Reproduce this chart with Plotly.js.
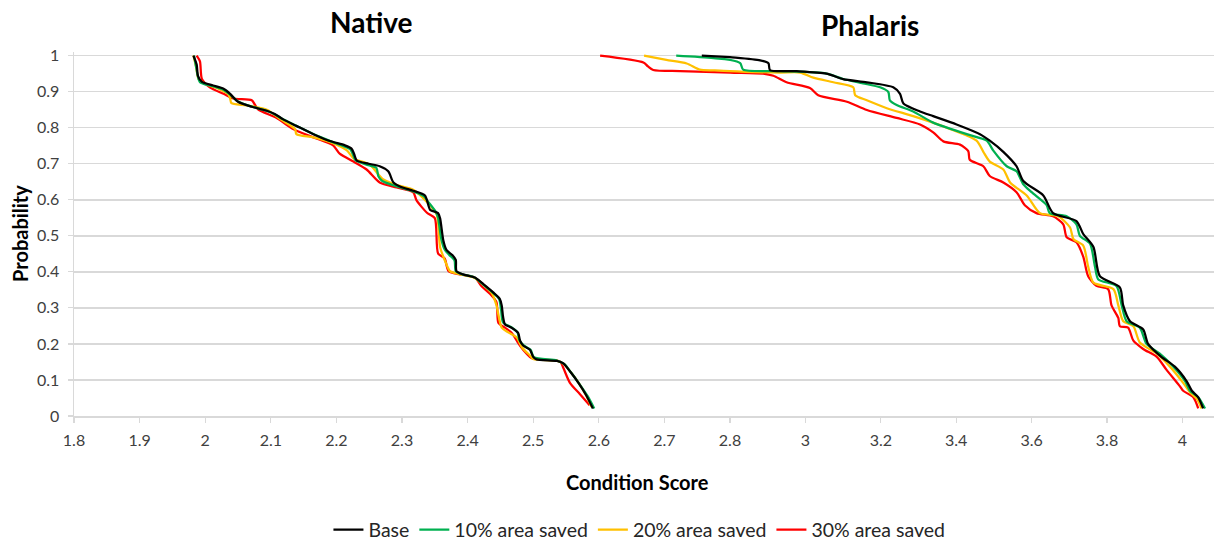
<!DOCTYPE html>
<html>
<head>
<meta charset="utf-8">
<script src="https://cdn.plot.ly/plotly-3.0.1.min.js"></script>
<style>
  html, body { margin: 0; padding: 0; background: #ffffff; }
  #chart { width: 1217px; height: 553px; }
</style>
</head>
<body>
<div id="chart"></div>
<script>
// Scenario names and colours (legend order)
const seriesNames = ['Base', '10% area saved', '20% area saved', '30% area saved'];
const seriesColors = ['#000000', '#00b050', '#ffc000', '#ff0000'];

// Axis ticks
const nativeTicks = [1.8, 1.9, 2, 2.1, 2.2, 2.3, 2.4, 2.5, 2.6, 2.7, 2.8];
const phalarisTicks = [3, 3.2, 3.4, 3.6, 3.8, 4];
const probTicks = [0, 0.1, 0.2, 0.3, 0.4, 0.5, 0.6, 0.7, 0.8, 0.9, 1];

// Native: exceedance probability vs condition score
const nativeBaseX = [1.982,1.987,1.989,1.995,2.012,2.028,2.038,2.05,2.071,2.094,2.106,2.119,2.139,2.165,2.19,2.213,2.223,2.227,2.231,2.249,2.266,2.279,2.287,2.297,2.317,2.335,2.343,2.355,2.358,2.363,2.368,2.377,2.382,2.383,2.393,2.411,2.424,2.439,2.449,2.452,2.454,2.457,2.467,2.477,2.48,2.485,2.495,2.5,2.505,2.536,2.546,2.556,2.569,2.581,2.591];
const nativeBaseY = [1.0,0.975,0.944,0.927,0.917,0.908,0.894,0.872,0.858,0.847,0.838,0.823,0.805,0.782,0.763,0.751,0.742,0.727,0.709,0.7,0.693,0.679,0.648,0.637,0.625,0.612,0.572,0.563,0.549,0.487,0.46,0.446,0.433,0.402,0.393,0.384,0.366,0.343,0.325,0.307,0.276,0.254,0.245,0.231,0.209,0.195,0.184,0.164,0.157,0.153,0.146,0.124,0.092,0.057,0.021];

const native10X = [1.983,1.986,1.992,2.01,2.027,2.037,2.05,2.07,2.093,2.105,2.118,2.138,2.164,2.189,2.212,2.221,2.226,2.229,2.245,2.261,2.264,2.27,2.292,2.316,2.333,2.34,2.352,2.355,2.36,2.365,2.372,2.38,2.382,2.392,2.41,2.423,2.438,2.448,2.451,2.454,2.466,2.476,2.479,2.486,2.496,2.501,2.536,2.548,2.558,2.57,2.583,2.593];
const native10Y = [1.0,0.97,0.926,0.916,0.906,0.893,0.873,0.859,0.847,0.838,0.824,0.806,0.783,0.764,0.748,0.74,0.722,0.71,0.698,0.688,0.665,0.652,0.637,0.624,0.61,0.594,0.565,0.55,0.49,0.462,0.447,0.432,0.402,0.393,0.385,0.366,0.343,0.325,0.295,0.26,0.247,0.232,0.21,0.195,0.184,0.163,0.154,0.143,0.12,0.09,0.055,0.021];

const native20X = [1.982,1.986,1.99,2.0,2.02,2.035,2.038,2.04,2.063,2.094,2.115,2.137,2.139,2.165,2.195,2.216,2.226,2.251,2.271,2.292,2.317,2.338,2.353,2.358,2.365,2.373,2.38,2.392,2.41,2.423,2.437,2.444,2.452,2.462,2.475,2.483,2.495,2.5,2.537,2.547,2.557,2.57,2.581,2.589];
const native20Y = [1.0,0.97,0.935,0.922,0.908,0.893,0.881,0.868,0.862,0.85,0.823,0.796,0.782,0.773,0.757,0.737,0.715,0.697,0.657,0.641,0.628,0.594,0.559,0.469,0.433,0.402,0.397,0.392,0.384,0.366,0.34,0.307,0.245,0.232,0.218,0.19,0.168,0.158,0.153,0.144,0.122,0.09,0.056,0.025];

const native30X = [1.987,1.992,1.995,2.007,2.028,2.043,2.071,2.076,2.081,2.109,2.134,2.165,2.195,2.205,2.226,2.246,2.266,2.292,2.317,2.322,2.338,2.35,2.355,2.365,2.371,2.388,2.411,2.421,2.434,2.444,2.447,2.457,2.467,2.48,2.49,2.498,2.541,2.546,2.556,2.571,2.586];
const native30Y = [1.0,0.984,0.935,0.912,0.894,0.881,0.876,0.863,0.85,0.827,0.796,0.773,0.751,0.728,0.706,0.684,0.648,0.634,0.621,0.599,0.564,0.549,0.451,0.437,0.402,0.393,0.384,0.361,0.339,0.316,0.258,0.245,0.231,0.195,0.173,0.16,0.151,0.133,0.092,0.061,0.03];

// Phalaris: exceedance probability vs condition score
const phalarisBaseX = [2.757,2.8,2.88,2.902,2.906,2.977,3.056,3.1,3.163,3.233,3.251,3.26,3.304,3.339,3.401,3.463,3.489,3.525,3.56,3.578,3.631,3.657,3.719,3.737,3.764,3.781,3.834,3.843,3.861,3.896,3.909,3.944,3.98,4.011,4.025,4.042,4.055];
const phalarisBaseY = [1.0,0.996,0.987,0.979,0.96,0.957,0.95,0.935,0.926,0.912,0.894,0.867,0.845,0.832,0.809,0.782,0.764,0.733,0.693,0.652,0.612,0.563,0.541,0.505,0.469,0.388,0.357,0.307,0.263,0.24,0.2,0.164,0.137,0.097,0.07,0.052,0.021];

const phalaris10X = [2.718,2.775,2.827,2.835,2.933,3.056,3.1,3.153,3.198,3.22,3.224,3.242,3.286,3.339,3.428,3.481,3.498,3.534,3.56,3.578,3.6,3.64,3.648,3.693,3.719,3.728,3.755,3.768,3.777,3.825,3.839,3.852,3.887,3.905,3.94,3.976,4.007,4.02,4.042,4.06];
const phalaris10Y = [1.0,0.993,0.979,0.961,0.957,0.95,0.935,0.923,0.912,0.899,0.876,0.863,0.845,0.814,0.782,0.764,0.737,0.693,0.679,0.643,0.621,0.585,0.563,0.554,0.532,0.5,0.478,0.415,0.379,0.361,0.307,0.263,0.245,0.2,0.173,0.137,0.097,0.07,0.052,0.021];

const phalaris20X = [2.669,2.703,2.734,2.754,2.775,2.8,2.933,2.986,3.021,3.074,3.127,3.132,3.163,3.216,3.286,3.375,3.454,3.472,3.489,3.525,3.543,3.587,3.622,3.671,3.702,3.711,3.737,3.75,3.764,3.817,3.83,3.843,3.87,3.887,3.932,3.967,4.002,4.02,4.038,4.051];
const phalaris20Y = [1.0,0.988,0.978,0.961,0.959,0.957,0.953,0.953,0.939,0.926,0.912,0.89,0.876,0.854,0.832,0.8,0.764,0.733,0.706,0.684,0.648,0.612,0.563,0.554,0.523,0.491,0.473,0.415,0.37,0.352,0.307,0.263,0.249,0.204,0.173,0.137,0.092,0.066,0.048,0.021];

const phalaris30X = [2.602,2.668,2.675,2.683,2.724,2.8,2.888,2.915,2.95,3.012,3.034,3.11,3.163,3.242,3.304,3.339,3.366,3.41,3.432,3.436,3.472,3.489,3.525,3.56,3.582,3.613,3.657,3.684,3.693,3.719,3.737,3.75,3.772,3.803,3.812,3.83,3.834,3.856,3.87,3.896,3.932,3.958,3.993,4.002,4.029,4.042];
const phalaris30Y = [1.0,0.981,0.97,0.96,0.957,0.953,0.95,0.944,0.926,0.91,0.89,0.872,0.849,0.827,0.809,0.787,0.762,0.753,0.735,0.711,0.693,0.666,0.648,0.621,0.585,0.563,0.554,0.532,0.496,0.482,0.442,0.388,0.361,0.352,0.307,0.272,0.249,0.245,0.209,0.186,0.164,0.128,0.083,0.07,0.052,0.021];

const nativeSeries = [[nativeBaseX, nativeBaseY], [native10X, native10Y], [native20X, native20Y], [native30X, native30Y]];
const phalarisSeries = [[phalarisBaseX, phalarisBaseY], [phalaris10X, phalaris10Y], [phalaris20X, phalaris20Y], [phalaris30X, phalaris30Y]];

// The score axis is broken at 2.8: 0.1 steps to the left, 0.2 steps to the right.
// Each Phalaris curve is drawn on both halves; each subplot clips its own part.
function line(x, y, i, xaxis, showlegend) {
  return {
    type: 'scatter', mode: 'lines', x: x, y: y, xaxis: xaxis, yaxis: 'y',
    name: seriesNames[i], legendgroup: seriesNames[i], showlegend: showlegend,
    line: { color: seriesColors[i], width: 2.25, shape: 'spline', smoothing: 0.7 },
    hoverinfo: 'x+y+name'
  };
}

const traces = [];
// draw 30% first so Base sits on top
for (let i = 3; i >= 0; i--) traces.push(line(nativeSeries[i][0], nativeSeries[i][1], i, 'x', true));
for (let i = 3; i >= 0; i--) traces.push(line(phalarisSeries[i][0], phalarisSeries[i][1], i, 'x', false));
for (let i = 3; i >= 0; i--) traces.push(line(phalarisSeries[i][0], phalarisSeries[i][1], i, 'x2', false));

const PLOT_L = 74, PLOT_R = 1214, BREAK_PX = 730;
const splitFrac = (BREAK_PX - PLOT_L) / (PLOT_R - PLOT_L);
const rightMax = 2.8 + (PLOT_R - BREAK_PX) / 377;

const FONT = 'Lato, "Open Sans", sans-serif';
const gridGrey = '#d9d9d9';
const tickFont = { family: FONT, size: 16, color: '#404040' };

function xAxis(domain, range, ticks) {
  return {
    domain: domain, range: range, anchor: 'y',
    tickmode: 'array', tickvals: ticks, ticktext: ticks.map(String),
    showgrid: false, zeroline: false,
    showline: true, linecolor: gridGrey, linewidth: 1.5,
    ticks: 'outside', ticklen: 5, tickcolor: gridGrey, tickwidth: 1.2,
    ticklabelstandoff: 4, tickfont: tickFont, fixedrange: true
  };
}

const layout = {
  width: 1217, height: 553,
  margin: { l: PLOT_L, r: 1217 - PLOT_R, t: 52, b: 125 },
  paper_bgcolor: '#ffffff', plot_bgcolor: '#ffffff',
  font: { family: FONT, color: '#404040', size: 16 },
  showlegend: true,
  legend: {
    orientation: 'h', x: 0.496, xanchor: 'center', y: -0.313, yanchor: 'middle',
    traceorder: 'reversed', itemwidth: 30, itemclick: false, itemdoubleclick: false,
    font: { family: FONT, size: 19.5, color: '#262626' }
  },
  xaxis: xAxis([0, splitFrac], [1.8, 2.8], nativeTicks),
  xaxis2: xAxis([splitFrac, 1], [2.8, rightMax], phalarisTicks),
  yaxis: {
    range: [0, 1.01], tickmode: 'array', tickvals: probTicks, ticktext: probTicks.map(String),
    showgrid: true, gridcolor: gridGrey, gridwidth: 1.5, zeroline: false,
    showline: true, linecolor: gridGrey, linewidth: 1.5,
    ticks: 'outside', ticklen: 5, tickcolor: gridGrey, tickwidth: 1.2,
    ticklabelstandoff: 5, tickfont: tickFont, fixedrange: true
  },
  annotations: [
    { text: '<b>Native</b>', xref: 'paper', yref: 'paper', x: (371 - PLOT_L) / (PLOT_R - PLOT_L), y: (428 - 21) / 376,
      xanchor: 'center', yanchor: 'middle', showarrow: false,
      font: { family: FONT, size: 28, color: '#000000' } },
    { text: '<b>Phalaris</b>', xref: 'paper', yref: 'paper', x: (870 - PLOT_L) / (PLOT_R - PLOT_L), y: (428 - 24) / 376,
      xanchor: 'center', yanchor: 'middle', showarrow: false,
      font: { family: FONT, size: 28, color: '#000000' } },
    { text: '<b>Condition Score</b>', xref: 'paper', yref: 'paper', x: (637 - PLOT_L) / (PLOT_R - PLOT_L), y: (428 - 496) / 376,
      xanchor: 'center', yanchor: 'middle', showarrow: false,
      font: { family: FONT, size: 20, color: '#000000' } },
    { text: '<b>Probability</b>', xref: 'paper', yref: 'paper', x: (20 - PLOT_L) / (PLOT_R - PLOT_L), y: 0.5,
      xanchor: 'center', yanchor: 'middle', textangle: -90, showarrow: false,
      font: { family: FONT, size: 20, color: '#000000' } }
  ]
};

Plotly.newPlot('chart', traces, layout, { displayModeBar: false, staticPlot: true });
</script>
</body>
</html>
